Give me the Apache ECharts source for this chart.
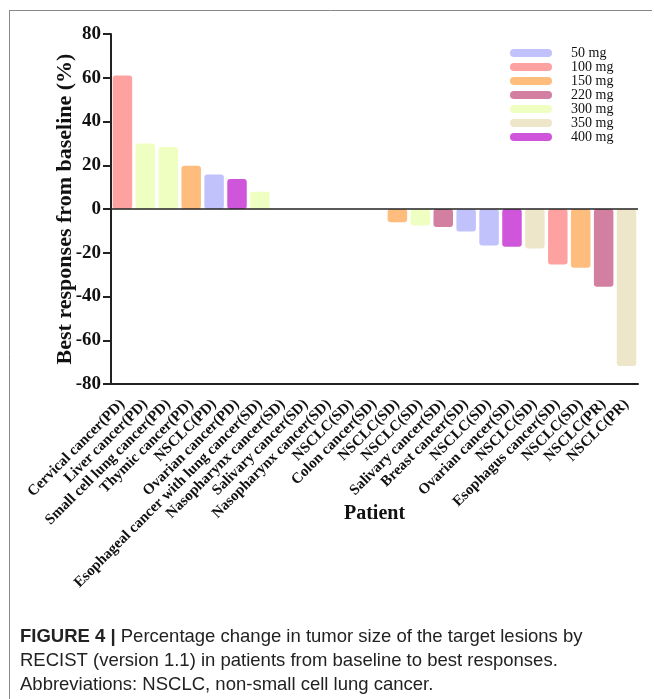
<!DOCTYPE html>
<html>
<head>
<meta charset="utf-8">
<script src="https://cdn.jsdelivr.net/npm/echarts@6/dist/echarts.min.js"></script>
<style>html,body{margin:0;padding:0;background:#fff}#c{width:654px;height:699px}</style>
</head>
<body>
<div id="c"></div>
<script>
var categories = [
  'Cervical cancer(PD)', 'Liver cancer(PD)', 'Small cell lung cancer(PD)', 'Thymic cancer(PD)',
  'NSCLC(PD)', 'Ovarian cancer(PD)', 'Esophageal cancer with lung cancer(SD)', 'Nasopharynx cancer(SD)',
  'Salivary cancer(SD)', 'Nasopharynx cancer(SD)', 'NSCLC(SD)', 'Colon cancer(SD)', 'NSCLC(SD)',
  'NSCLC(SD)', 'Salivary cancer(SD)', 'Breast cancer(SD)', 'NSCLC(SD)', 'Ovarian cancer(SD)',
  'NSCLC(SD)', 'Esophagus cancer(SD)', 'NSCLC(SD)', 'NSCLC(PR)', 'NSCLC(PR)'
];
var values = [61, 30, 28.3, 19.8, 15.8, 13.7, 7.9, 0, 0, 0, 0, 0,
  -6, -7.5, -8.2, -10.3, -16.7, -17.2, -18.1, -25.4, -26.8, -35.5, -71.8];
var doses = ['100 mg', '300 mg', '300 mg', '150 mg', '50 mg', '400 mg', '300 mg', null, null, null, null, null,
  '150 mg', '300 mg', '220 mg', '50 mg', '50 mg', '400 mg', '350 mg', '100 mg', '150 mg', '220 mg', '350 mg'];
var doseNames = ['50 mg', '100 mg', '150 mg', '220 mg', '300 mg', '350 mg', '400 mg'];
var doseColors = ['#c1c1fc', '#fea1a1', '#febd7d', '#d27fa1', '#eeffc1', '#ede6c9', '#cf56db'];
var yTicks = { min: -80, max: 80, interval: 20 };

var serif = 'Liberation Serif';
var series = doseNames.map(function (d, k) {
  var s = {
    name: d,
    type: 'bar',
    barWidth: 19.5,
    barGap: '-100%',
    itemStyle: { color: doseColors[k], borderRadius: 3 },
    data: values.map(function (v, i) { return doses[i] === d ? v : '-'; })
  };
  if (k === 0) {
    s.markLine = {
      silent: true, symbol: 'none', label: { show: false },
      lineStyle: { color: '#222', width: 1.5, type: 'solid' },
      data: [{ yAxis: 0 }]
    };
  }
  return s;
});

var chart = echarts.init(document.getElementById('c'), null, { renderer: 'canvas' });
chart.setOption({
  animation: false,
  backgroundColor: '#fff',
  grid: { left: 111, right: 16, top: 34, bottom: 315, containLabel: false },
  legend: {
    orient: 'vertical', left: 510, top: 46, padding: 0,
    itemWidth: 42, itemHeight: 8, itemGap: 0,
    icon: 'path://M4,0 H38 A4,4 0 0 1 38,8 H4 A4,4 0 0 1 4,0 Z',
    textStyle: { fontFamily: serif, fontSize: 14, color: '#111', lineHeight: 14, padding: [0, 0, 0, 14] },
    data: doseNames
  },
  xAxis: {
    type: 'category', data: categories, boundaryGap: true,
    axisLine: { onZero: false, lineStyle: { color: '#222', width: 2 } },
    axisTick: { alignWithLabel: true, length: 7, lineStyle: { color: '#222', width: 1.5 } },
    axisLabel: { interval: 0, rotate: 45, margin: 18, fontFamily: serif, fontWeight: 'bold', fontSize: 15, color: '#111' },
    name: 'Patient', nameLocation: 'middle', nameGap: 120, nameMoveOverlap: false,
    nameTextStyle: { fontFamily: serif, fontWeight: 'bold', fontSize: 20, color: '#111' }
  },
  yAxis: {
    type: 'value', min: yTicks.min, max: yTicks.max, interval: yTicks.interval,
    splitLine: { show: false },
    axisLine: { show: true, lineStyle: { color: '#222', width: 2 } },
    axisTick: { show: true, length: 8, lineStyle: { color: '#222', width: 2 } },
    axisLabel: { fontFamily: serif, fontWeight: 'bold', fontSize: 19, color: '#111', margin: 10 },
    name: 'Best responses from baseline (%)', nameLocation: 'middle', nameGap: 35, nameMoveOverlap: false,
    nameTextStyle: { fontFamily: serif, fontWeight: 'bold', fontSize: 22, color: '#111' }
  },
  series: series,
  graphic: [
    { type: 'line', shape: { x1: 9, y1: 10.5, x2: 652, y2: 10.5 }, style: { stroke: '#888', lineWidth: 1 } },
    { type: 'line', shape: { x1: 9.5, y1: 10, x2: 9.5, y2: 699 }, style: { stroke: '#888', lineWidth: 1 } },
    {
      type: 'text', left: 20, top: 625,
      style: {
        text: '{b|FIGURE 4 |} Percentage change in tumor size of the target lesions by\nRECIST (version 1.1) in patients from baseline to best responses.\nAbbreviations: NSCLC, non-small cell lung cancer.',
        fontFamily: 'Liberation Sans', fontSize: 18.5, lineHeight: 24, fill: '#222',
        rich: { b: { fontFamily: 'Liberation Sans', fontWeight: 'bold', fontSize: 18.5, fill: '#222' } }
      }
    }
  ]
});
</script>
</body>
</html>
